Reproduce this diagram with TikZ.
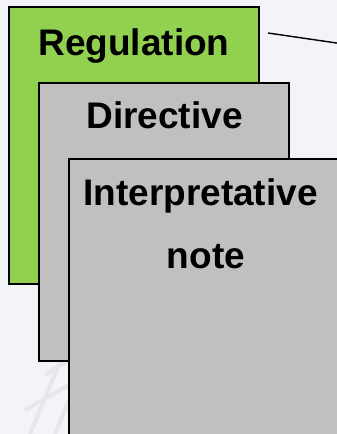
\documentclass[tikz,border=0pt]{standalone}
\usepackage{fontspec}
\setmainfont{Liberation Sans}
\definecolor{bgc}{HTML}{F3F4F8}
\definecolor{greenc}{HTML}{92D050}
\definecolor{grayc}{HTML}{C0C0C0}
\definecolor{latc}{HTML}{E6E7EB}
\tikzset{
  page/.style={draw=black, line width=2.8pt},
  lbl/.style={font=\fontsize{37}{41}\selectfont\bfseries, anchor=base, inner sep=0pt},
}
\begin{document}
\begin{tikzpicture}[x=1pt,y=-1pt]
\useasboundingbox (0,0) rectangle (337,434);
\clip (0,0) rectangle (337,434);
\fill[bgc] (0,0) rectangle (337,434);
% faint background lattice
\begin{scope}[latc, line width=4pt]
\draw (30,434) -- (69,340);
\draw (55,434) -- (69,400);
\draw (25,410) -- (69,385);
\draw (45,375) -- (69,360);
\end{scope}
% pages
\fill[greenc] (9,7) rectangle (259,284);
\draw[page] (9,7) rectangle (259,284);
\node[lbl] (reg) at (134,55) {Regulation};
\fill[grayc] (39,83) rectangle (289,361);
\draw[page] (39,83) rectangle (289,361);
\node[lbl] (dir) at (164.5,128) {Directive};
\fill[grayc] (69,159) rectangle (345,450);
\draw[page] (69,159) rectangle (345,450);
\node[lbl] (int) at (200.5,205) {Interpretative};
\node[lbl] (note) at (206,268) {note};
% connector
\coordinate (ls) at (268,33);
\coordinate (le) at (340,43.5);
\draw[line width=1.4pt] (ls) -- (le);
\end{tikzpicture}
\end{document}
